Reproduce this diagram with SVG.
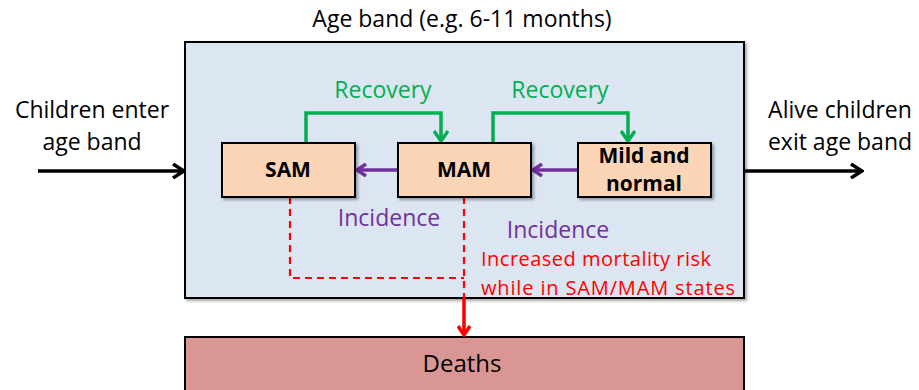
<svg xmlns="http://www.w3.org/2000/svg" width="919" height="390" viewBox="0 0 919 390">
<defs>
<style>
text{font-family:"Open Sans","Liberation Sans",sans-serif}
.node{fill:#fbd5b5;stroke:#000;stroke-width:2}
.nt{font-size:21px;font-weight:bold;text-anchor:middle}
.grn{fill:none;stroke:#00b050;stroke-width:3.5}
.pur{fill:none;stroke:#7030a0;stroke-width:3.5}
.blk{fill:none;stroke:#000;stroke-width:3.5}
</style>
<marker id="ag" markerWidth="14" markerHeight="16" refX="11" refY="8" orient="auto" markerUnits="userSpaceOnUse" viewBox="0 0 14 16"><path d="M1,1 L11,8 L1,15" fill="none" stroke="#00b050" stroke-width="3.5"/></marker>
<marker id="ap" markerWidth="12" markerHeight="14" refX="10" refY="7" orient="auto" markerUnits="userSpaceOnUse" viewBox="0 0 12 14"><path d="M1,1 L10,7 L1,13" fill="none" stroke="#7030a0" stroke-width="3.5"/></marker>
<marker id="ak" markerWidth="14" markerHeight="16" refX="12" refY="8" orient="auto" markerUnits="userSpaceOnUse" viewBox="0 0 14 16"><path d="M1,1 L12,8 L1,15" fill="none" stroke="#000" stroke-width="3.5"/></marker>
<marker id="ar" markerWidth="12" markerHeight="14" refX="10" refY="7" orient="auto" markerUnits="userSpaceOnUse" viewBox="0 0 12 14"><path d="M1,1 L10,7 L1,13" fill="none" stroke="#ff0000" stroke-width="3.5"/></marker>
<filter id="sh" x="-10%" y="-10%" width="130%" height="140%"><feDropShadow dx="2" dy="2" stdDeviation="1.5" flood-color="#000" flood-opacity="0.35"/></filter>
</defs>
<rect width="919" height="390" fill="#fff"/>
<g id="ageband">
<rect x="185" y="42" width="559" height="256" fill="#dce6f2" stroke="#000" stroke-width="2" filter="url(#sh)"/>
<text x="462" y="27" font-size="23" text-anchor="middle">Age band (e.g. 6-11 months)</text>
</g>
<g id="deaths">
<rect x="185" y="337" width="559" height="60" fill="#d99694" stroke="#000" stroke-width="2"/>
<text x="462" y="372" font-size="24" text-anchor="middle">Deaths</text>
</g>
<g id="connectors">
<path class="grn" d="M306,143 V113 H441 V141" marker-end="url(#ag)"/>
<path class="grn" d="M493,143 V113 H628 V141" marker-end="url(#ag)"/>
<path class="pur" d="M398,170 H357" marker-end="url(#ap)"/>
<path class="pur" d="M578,170 H533" marker-end="url(#ap)"/>
<path class="blk" d="M38,171 H184" marker-end="url(#ak)"/>
<path class="blk" d="M744,171 H862" marker-end="url(#ak)"/>
<path d="M290,197 V278 H464 M464,197 V298" fill="none" stroke="#ff0000" stroke-width="2.2" stroke-dasharray="7,5"/>
<path d="M464,298 V335" fill="none" stroke="#ff0000" stroke-width="3.5" marker-end="url(#ar)"/>
</g>
<g id="sam">
<rect class="node" x="222" y="143" width="133" height="54" filter="url(#sh)"/>
<text class="nt" x="288" y="177">SAM</text>
</g>
<g id="mam">
<rect class="node" x="398" y="143" width="133" height="54" filter="url(#sh)"/>
<text class="nt" x="464" y="177">MAM</text>
</g>
<g id="mild">
<rect class="node" x="578" y="143" width="133" height="54" filter="url(#sh)"/>
<text class="nt" x="644" y="163" font-size="19">Mild and</text>
<text class="nt" x="644" y="191" font-size="19">normal</text>
</g>
<g id="labels">
<text x="383" y="98" font-size="23" fill="#00b050" text-anchor="middle">Recovery</text>
<text x="560" y="98" font-size="23" fill="#00b050" text-anchor="middle">Recovery</text>
<text x="389" y="226" font-size="23" fill="#7030a0" text-anchor="middle">Incidence</text>
<text x="558" y="238" font-size="23" fill="#7030a0" text-anchor="middle">Incidence</text>
<text x="481" y="266" font-size="20" fill="#ff0000" textLength="230" lengthAdjust="spacing">Increased  mortality risk</text>
<text x="481" y="295" font-size="20" fill="#ff0000" textLength="254" lengthAdjust="spacing">while in SAM/MAM states</text>
<text x="92" y="118" font-size="23" text-anchor="middle">Children enter</text>
<text x="92" y="150" font-size="23" text-anchor="middle">age band</text>
<text x="840" y="118" font-size="23" text-anchor="middle">Alive children</text>
<text x="840" y="150" font-size="23" text-anchor="middle">exit age band</text>
</g>
</svg>
